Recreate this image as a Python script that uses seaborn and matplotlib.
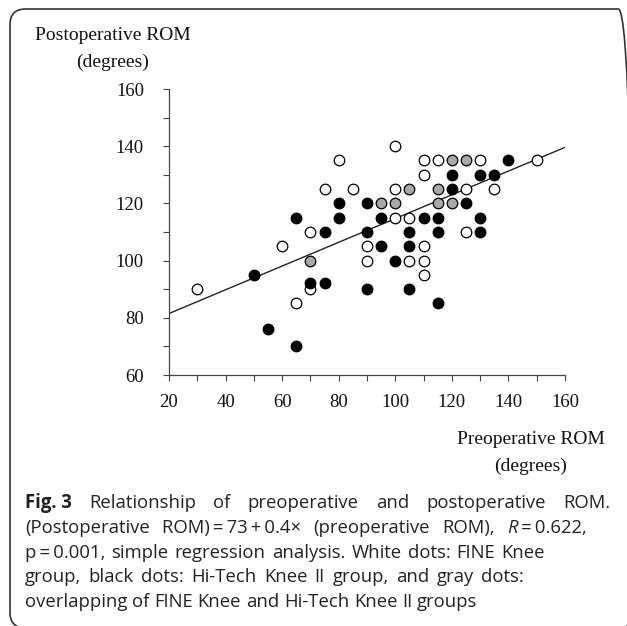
import numpy as np
import pandas as pd
import matplotlib
matplotlib.use("Agg")
import matplotlib.pyplot as plt
from matplotlib.patches import FancyBboxPatch
from matplotlib.ticker import MultipleLocator
import seaborn as sns

# ---------------- data ----------------
fine_pre = [30, 60, 70, 70, 65, 75, 80, 100, 110, 115, 130, 150, 110, 85, 100, 125, 135,
            100, 105, 125, 90, 110, 90, 105, 110, 110]
fine_post = [90, 105, 110, 90, 85, 125, 135, 140, 135, 135, 135, 135, 130, 125, 125, 125, 125,
             115, 115, 110, 105, 105, 100, 100, 100, 95]

hitech_pre = [50, 65, 55, 65, 70, 75, 75, 80, 80, 140, 120, 130, 135, 120, 90, 125, 95, 110,
              115, 130, 90, 105, 115, 130, 95, 105, 100, 90, 105, 115]
hitech_post = [95, 115, 76, 70, 92, 110, 92, 120, 115, 135, 130, 130, 130, 125, 120, 120, 115, 115,
               115, 115, 110, 110, 110, 110, 105, 105, 100, 90, 90, 85]

both_pre = [70, 120, 125, 105, 115, 95, 100, 115, 120]
both_post = [100, 135, 135, 125, 125, 120, 120, 120, 120]

group_names = ["FINE Knee", "Hi-Tech Knee II", "Both"]

reg_intercept = 73.2
reg_slope = 0.415
line_x = np.array([20, 160])

x_ticks = [20, 40, 60, 80, 100, 120, 140, 160]
y_ticks = [60, 80, 100, 120, 140, 160]

df = pd.DataFrame({
    "pre": fine_pre + hitech_pre + both_pre,
    "post": fine_post + hitech_post + both_post,
    "group": [group_names[0]] * len(fine_pre) + [group_names[1]] * len(hitech_pre)
             + [group_names[2]] * len(both_pre),
})

# ---------------- figure ----------------
sns.set_theme(style="white")
plt.rcParams["font.family"] = ["Liberation Serif", "DejaVu Serif"]

W, H = 627, 626
fig = plt.figure(figsize=(W / 100, H / 100), dpi=100)

# frame around the figure panel
frame = FancyBboxPatch((10 / W, (H - 628) / H), 624 / W, 619 / H,
                       boxstyle="round,pad=0,rounding_size=0.025",
                       transform=fig.transFigure, fill=False,
                       edgecolor="#333333", linewidth=1.2, clip_on=False)
fig.patches.append(frame)

ax_l, ax_r, ax_t, ax_b = 169, 565, 89, 375
ax = fig.add_axes([ax_l / W, 1 - ax_b / H, (ax_r - ax_l) / W, (ax_b - ax_t) / H])

sns.lineplot(x=line_x, y=reg_intercept + reg_slope * line_x, ax=ax,
             color="#222222", linewidth=1.0, zorder=2)

palette = {group_names[0]: "white", group_names[1]: "black", group_names[2]: "#a8a8a8"}
for g in group_names:
    sub = df[df["group"] == g]
    sns.scatterplot(data=sub, x="pre", y="post", color=palette[g], ax=ax,
                    s=58, edgecolor="black", linewidth=0.9, zorder=3, legend=False)

ax.set_xlim(20, 160)
ax.set_ylim(60, 160)
ax.set_xticks(x_ticks)
ax.set_yticks(y_ticks)
ax.xaxis.set_minor_locator(MultipleLocator(10))
ax.yaxis.set_minor_locator(MultipleLocator(10))
ax.set_xlabel("")
ax.set_ylabel("")
for s in ["top", "right"]:
    ax.spines[s].set_visible(False)
for s in ["left", "bottom"]:
    ax.spines[s].set_color("#444444")
    ax.spines[s].set_linewidth(0.9)
ax.tick_params(axis="both", which="both", direction="out", length=4, width=0.8,
               color="#444444", labelsize=13.5, labelcolor="#111111")
ax.tick_params(axis="y", which="both", pad=14, left=True)
ax.tick_params(axis="x", which="both", pad=10, bottom=True)


def fx(px):
    return px / W


def fy(py):
    return 1 - py / H


fig.text(fx(113), fy(35), "Postoperative ROM", ha="center", va="center", fontsize=14, color="#111111")
fig.text(fx(113), fy(62), "(degrees)", ha="center", va="center", fontsize=14, color="#111111")
fig.text(fx(531), fy(440), "Preoperative ROM", ha="center", va="center", fontsize=14, color="#111111")
fig.text(fx(531), fy(466), "(degrees)", ha="center", va="center", fontsize=14, color="#111111")

# ---------------- caption ----------------
cap_family = ["Open Sans", "DejaVu Sans"]
T = "\u2009"  # thin space around operators
N = ("normal", "normal")
B = ("bold", "normal")
I = ("normal", "italic")
cap_lines = [
    [("Fig. 3",) + B, ("Relationship",) + N, ("of",) + N, ("preoperative",) + N, ("and",) + N,
     ("postoperative",) + N, ("ROM.",) + N],
    [("(Postoperative",) + N, (f"ROM){T}={T}73{T}+{T}0.4\u00d7",) + N, ("(preoperative",) + N,
     ("ROM),",) + N, ("R",) + I, (f"{T}={T}0.622,",) + N],
    [(f"p{T}={T}0.001,",) + N, ("simple",) + N, ("regression",) + N, ("analysis.",) + N,
     ("White",) + N, ("dots:",) + N, ("FINE",) + N, ("Knee",) + N],
    [("group,",) + N, ("black",) + N, ("dots:",) + N, ("Hi-Tech",) + N, ("Knee",) + N, ("II",) + N,
     ("group,",) + N, ("and",) + N, ("gray",) + N, ("dots:",) + N],
    [("overlapping",) + N, ("of",) + N, ("FINE",) + N, ("Knee",) + N, ("and",) + N,
     ("Hi-Tech",) + N, ("Knee",) + N, ("II",) + N, ("groups",) + N],
]
cap_y = [503, 528, 553, 577, 602]
cap_right = [610, 587, 545, 524, None]
cap_left = 25

renderer = fig.canvas.get_renderer()


def text_w(s, size, wt="normal", st="normal"):
    t = fig.text(0, 0, s, fontsize=size, family=cap_family, weight=wt, style=st)
    w = t.get_window_extent(renderer).width
    t.remove()
    return w


cap_size = 12 * 452 / text_w("overlapping of FINE Knee and Hi-Tech Knee II groups", 12)
space = text_w("a a", cap_size) - text_w("aa", cap_size)

for words, py, right in zip(cap_lines, cap_y, cap_right):
    widths = [text_w(w, cap_size, wt, st) for w, wt, st in words]
    ngaps = sum(1 for (wd, wt, st) in words[:-1] if not (wd == "R" and st == "italic"))
    if right is None:
        gap = space
    else:
        gap = max(space, (right - cap_left - sum(widths)) / ngaps)
    x = cap_left
    for (wd, wt, st), w in zip(words, widths):
        fig.text(fx(x), fy(py), wd, ha="left", va="center", fontsize=cap_size,
                 family=cap_family, weight=wt, style=st, color="#222222")
        if wd == "R" and st == "italic":
            x += w
        else:
            x += w + gap

fig.savefig("out.png", dpi=100, facecolor="white")
